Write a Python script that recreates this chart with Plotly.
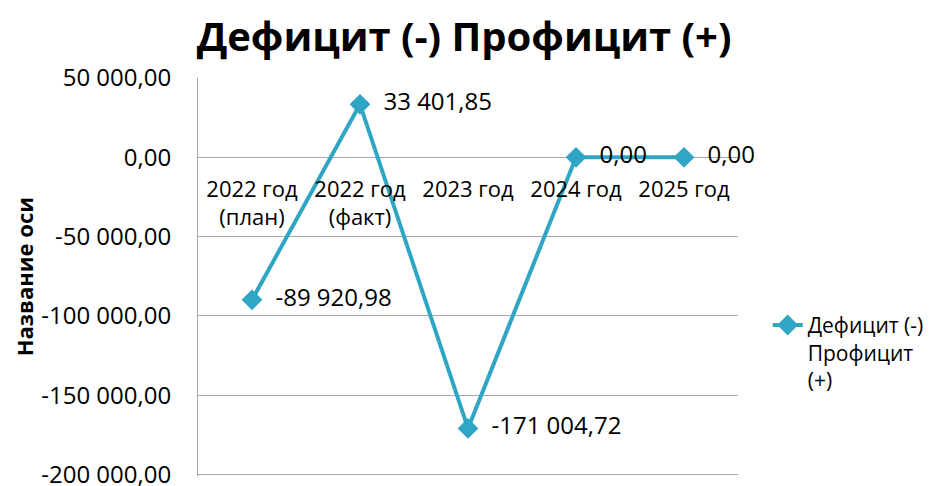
import plotly.graph_objects as go

# данные
categories = ['2022 год<br>(план)', '2022 год<br>(факт)', '2023 год', '2024 год', '2025 год']
balance = [-89920.98, 33401.85, -171004.72, 0.0, 0.0]
labels = ['-89 920,98', '33 401,85', '-171 004,72', '0,00', '0,00']

y_ticks = [50000, 0, -50000, -100000, -150000, -200000]
y_tick_text = ['50 000,00', '0,00', '-50 000,00', '-100 000,00', '-150 000,00', '-200 000,00']

series_name = 'Дефицит (-)<br>Профицит<br>(+)'
title_text = 'Дефицит (-) Профицит (+)'
y_title = 'Название оси'

LINE_COLOR = '#31A6C4'
FONT = 'Open Sans'

# страница даёт отступ body 8px, поэтому фигура чуть меньше окна
W, H = 931, 478
L, R, T, B = 190, 197, 70, 10

fig = go.Figure()
fig.add_trace(go.Scatter(
    x=categories, y=balance,
    mode='lines+markers+text',
    name=series_name,
    line=dict(color=LINE_COLOR, width=4),
    marker=dict(symbol='diamond', size=16, color=LINE_COLOR),
    text=['  ' + t for t in labels],
    textposition='middle right',
    textfont=dict(size=24, color='black', family=FONT),
    cliponaxis=False,
))

fig.update_layout(
    width=W, height=H,
    margin=dict(l=L, r=R, t=T, b=B),
    plot_bgcolor='white', paper_bgcolor='white',
    font=dict(family=FONT, color='black'),
    title=dict(text='<b>' + title_text + '</b>', x=0.4899, xanchor='center',
               y=1 - 29 / H, yanchor='middle', font=dict(size=40)),
    showlegend=True,
    legend=dict(x=1.055, y=0.43, xanchor='left', yanchor='top',
                valign='top', font=dict(size=21), itemwidth=30),
)

plot_w = W - L - R
fig.add_annotation(
    text='<b>' + y_title + '</b>', textangle=-90,
    xref='paper', yref='paper', x=-(L - 15) / plot_w, y=0.5,
    xanchor='center', yanchor='middle', showarrow=False,
    font=dict(size=22),
)

fig.update_xaxes(
    type='category', automargin=False,
    range=[-0.5, len(categories) - 0.5],
    anchor='free', position=0.8,
    showgrid=False, zeroline=False, showline=False,
    ticks='', tickfont=dict(size=22),
    ticklabelstandoff=16,
)
fig.update_yaxes(
    # чуть ниже -200 000, иначе нижняя линия сетки не рисуется
    range=[-201000, 50000], automargin=False,
    tickvals=y_ticks, ticktext=y_tick_text,
    showgrid=True, gridcolor='#A6A6A6', gridwidth=1,
    zeroline=False,
    showline=True, linecolor='#A6A6A6', linewidth=1,
    tickfont=dict(size=24),
    ticklabelstandoff=21,
    ticklabeloverflow='allow',
)

fig.write_html('out.html')
